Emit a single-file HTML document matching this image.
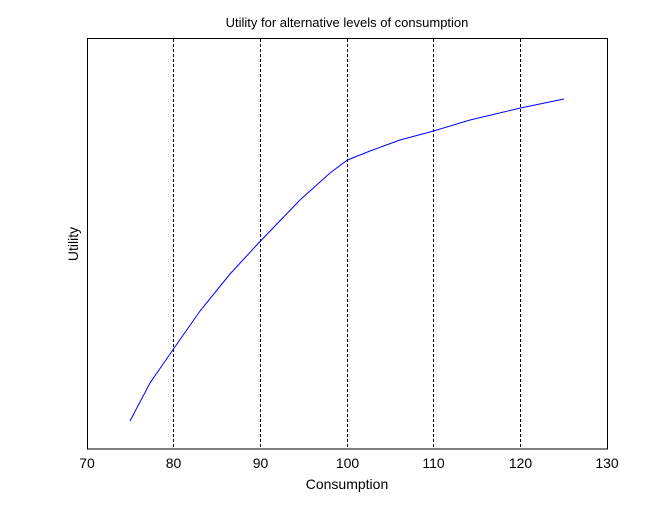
<!DOCTYPE html>
<html><head><style>body{margin:0;background:#fff}</style></head><body>
<svg width="672" height="504" xmlns="http://www.w3.org/2000/svg" font-family="Liberation Sans, Arial, sans-serif">
<rect width="672" height="504" fill="#fff"/>
<g stroke="#000" stroke-width="1" stroke-dasharray="3,2" fill="none">
<line x1="173.5" y1="39" x2="173.5" y2="449"/>
<line x1="260.5" y1="39" x2="260.5" y2="449"/>
<line x1="347.5" y1="39" x2="347.5" y2="449"/>
<line x1="433.5" y1="39" x2="433.5" y2="449"/>
<line x1="520.5" y1="39" x2="520.5" y2="449"/>
</g>
<rect x="87.5" y="38.5" width="520" height="410.5" fill="none" stroke="#000" stroke-width="1"/>
<polyline fill="none" stroke="#0000ff" stroke-width="1" points="130,421 150,383 173.5,349 200,311 230,274 260.5,241 300,200 330,173 347.5,160 370,151 400,140 433.5,131 470,120 520.5,108 564,99"/>
<g font-size="14" text-anchor="middle" fill="#000">
<text x="87" y="468">70</text><text x="173.5" y="468">80</text><text x="260.5" y="468">90</text>
<text x="347.5" y="468">100</text><text x="433.5" y="468">110</text><text x="520.5" y="468">120</text><text x="607" y="468">130</text>
<text x="347" y="489">Consumption</text>
<text transform="translate(78,244) rotate(-90)">Utility</text>
</g>
<text x="347" y="27" font-size="13" text-anchor="middle">Utility for alternative levels of consumption</text>
</svg>
</body></html>
